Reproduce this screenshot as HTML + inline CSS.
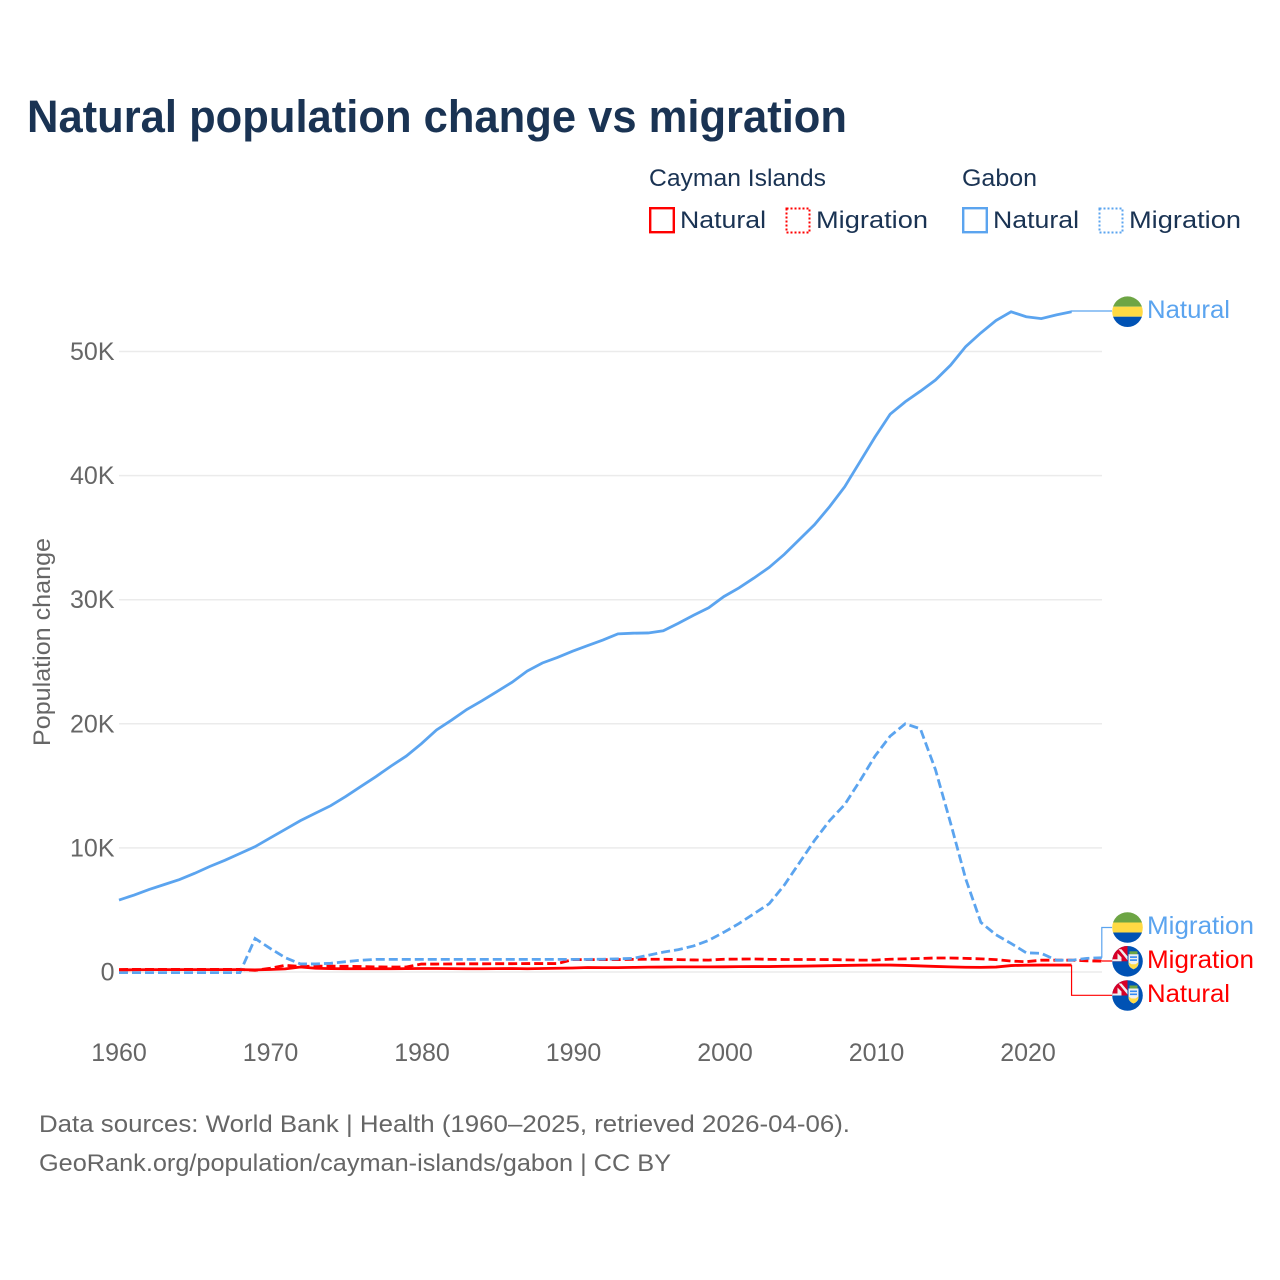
<!DOCTYPE html>
<html lang="en">
<head>
<meta charset="utf-8">
<title>Natural population change vs migration</title>
<style>
html,body{margin:0;padding:0;background:#fff;width:1280px;height:1280px;overflow:hidden}
svg{display:block}
text{font-family:"Liberation Sans",sans-serif}
.tick{font-size:25px;fill:#666}
.leg{font-size:24.5px;fill:#1a3353}
.foot{font-size:24.5px;fill:#666}
.lab{font-size:25px}
</style>
</head>
<body>
<svg id="chart" xmlns="http://www.w3.org/2000/svg" width="1280" height="1280" viewBox="0 0 1280 1280">
<defs>
<clipPath id="flag-clip"><circle cx="0" cy="0" r="15.3"/></clipPath>
<g id="flag-gabon">
<g clip-path="url(#flag-clip)">
<rect x="-16" y="-16" width="32" height="11" fill="#6da544"/>
<rect x="-16" y="-5" width="32" height="10" fill="#ffda44"/>
<rect x="-16" y="5" width="32" height="11" fill="#0052b4"/>
</g>
</g>
<g id="flag-cayman">
<g clip-path="url(#flag-clip)">
<rect x="-16" y="-16" width="32" height="32" fill="#0052b4"/>
<rect x="-16" y="-16" width="16" height="16" fill="#d80027"/>
<path d="M-9,-12 L-6,-12 L0,-5 L0,-1 Z" fill="#f0f0f0"/>
<path d="M-10,-8 L-10,-2 L-16,-2 L-16,0 L-6,0 L-6,-4 Z" fill="#f0f0f0"/>
<rect x="2" y="-10" width="8" height="3" fill="#6da544"/>
<path d="M1,-7 H11 V2 Q11,6 6,8 Q1,6 1,2 Z" fill="#f0f0f0"/>
<path d="M1,1 Q1,6 6,8 Q11,6 11,1 L8,3 H4 Z" fill="#ffda44"/>
<rect x="2.5" y="-5" width="7" height="1.6" fill="#338af3"/>
<rect x="2.5" y="-2" width="7" height="1.6" fill="#338af3"/>
</g>
</g>
</defs>

<text x="27" y="132" font-size="45" font-weight="700" fill="#1a3353" textLength="820" lengthAdjust="spacingAndGlyphs">Natural population change vs migration</text>

<g>
<text class="leg" x="649" y="186" textLength="177" lengthAdjust="spacingAndGlyphs">Cayman Islands</text>
<text class="leg" x="962" y="186" textLength="75" lengthAdjust="spacingAndGlyphs">Gabon</text>
<rect x="650.2" y="208.2" width="23.6" height="24" fill="none" stroke="#ff0000" stroke-width="2.4"/>
<text class="leg" x="680" y="228" textLength="86" lengthAdjust="spacingAndGlyphs">Natural</text>
<rect x="786.5" y="208.5" width="23" height="24" fill="none" stroke="#ff0000" stroke-width="2" stroke-dasharray="2 2"/>
<text class="leg" x="816" y="228" textLength="112" lengthAdjust="spacingAndGlyphs">Migration</text>
<rect x="963.2" y="208.2" width="23.6" height="24" fill="none" stroke="#5ba4ef" stroke-width="2.4"/>
<text class="leg" x="993" y="228" textLength="86" lengthAdjust="spacingAndGlyphs">Natural</text>
<rect x="1099.5" y="208.5" width="23" height="24" fill="none" stroke="#5ba4ef" stroke-width="2" stroke-dasharray="2 2"/>
<text class="leg" x="1129" y="228" textLength="112" lengthAdjust="spacingAndGlyphs">Migration</text>
</g>

<g id="grid"></g>
<g id="yticks"></g>
<g id="xticks"></g>
<g id="series"></g>
<g id="connectors"></g>

<text transform="translate(50,746) rotate(-90)" font-size="24.5" fill="#666" textLength="208" lengthAdjust="spacingAndGlyphs">Population change</text>

<g>
<use href="#flag-gabon" x="1127.5" y="311.7"/>
<text class="lab" x="1147" y="318" fill="#5ba4ef" textLength="83" lengthAdjust="spacingAndGlyphs">Natural</text>
<use href="#flag-gabon" x="1127.5" y="927.5"/>
<text class="lab" x="1147" y="934" fill="#5ba4ef" textLength="107" lengthAdjust="spacingAndGlyphs">Migration</text>
<use href="#flag-cayman" x="1127.5" y="961.3"/>
<text class="lab" x="1147" y="968" fill="#ff0000" textLength="107" lengthAdjust="spacingAndGlyphs">Migration</text>
<use href="#flag-cayman" x="1127.5" y="995.5"/>
<text class="lab" x="1147" y="1002" fill="#ff0000" textLength="83" lengthAdjust="spacingAndGlyphs">Natural</text>
</g>

<text class="foot" x="39" y="1132" textLength="811" lengthAdjust="spacingAndGlyphs">Data sources: World Bank | Health (1960–2025, retrieved 2026-04-06).</text>
<text class="foot" x="39" y="1171" textLength="632" lengthAdjust="spacingAndGlyphs">GeoRank.org/population/cayman-islands/gabon | CC BY</text>
</svg>

<script>
const startYear = 1960;
const yTickValues = [0, 10000, 20000, 30000, 40000, 50000];
const yTickLabels = ["0", "10K", "20K", "30K", "40K", "50K"];
const xTickYears = [1960, 1970, 1980, 1990, 2000, 2010, 2020];
const gabonNatural = [5800,6200,6650,7050,7450,7950,8500,9000,9550,10100,10800,11500,12200,12800,13400,14150,14950,15750,16600,17400,18400,19500,20300,21150,21850,22600,23350,24250,24900,25350,25850,26300,26750,27250,27300,27320,27500,28100,28750,29350,30250,30950,31750,32600,33650,34850,36050,37500,39100,41100,43100,44950,45950,46800,47700,48900,50400,51500,52500,53200,52800,52650,52950,53200];
const gabonMigration = [-50,-50,-50,-50,-50,-50,-50,-50,-50,2700,1900,1150,650,650,700,830,950,1020,1020,1020,1020,1020,1020,1020,1020,1020,1020,1020,1020,1020,1020,1020,1030,1060,1100,1350,1600,1800,2100,2550,3200,3900,4700,5500,7000,8800,10600,12200,13500,15400,17400,19000,20000,19600,16300,12000,7500,4000,3000,2300,1550,1500,950,950,1100,1150];
const caymanNatural = [170,180,190,190,190,190,190,190,190,170,200,250,400,300,270,260,260,260,260,270,280,280,270,260,260,270,280,260,280,300,320,360,350,350,370,390,400,410,410,410,420,430,440,440,460,470,490,510,530,550,560,560,530,490,450,410,380,370,400,520,550,560,560,560];
const caymanMigration = [200,210,210,210,210,210,210,210,210,130,300,540,450,470,470,460,440,410,400,400,640,640,650,660,660,670,670,680,680,680,1000,1000,1000,1000,1020,1030,1030,1000,970,960,1030,1040,1050,1020,1010,1010,1010,1000,980,960,960,1030,1060,1090,1130,1130,1100,1060,1000,880,830,950,950,950,900,880];

const svgNS = "http://www.w3.org/2000/svg";
function xScale(year) { return 119 + (year - 1960) * 15.12; }
function xLabelPos(year) { return 119 + (year - 1960) * 15.15; }
function yScale(value) { return 972 - value * 0.01241; }
function make(tag, attrs, parent) {
  const el = document.createElementNS(svgNS, tag);
  for (const k in attrs) el.setAttribute(k, attrs[k]);
  parent.appendChild(el);
  return el;
}
function linePath(values) {
  return values.map(function (v, i) {
    return (i ? "L" : "M") + xScale(startYear + i).toFixed(2) + "," + yScale(v).toFixed(2);
  }).join(" ");
}

const grid = document.getElementById("grid");
const yticks = document.getElementById("yticks");
yTickValues.forEach(function (v, i) {
  const g = make("line", {x1: 119, x2: 1102, y1: yScale(v), y2: yScale(v), stroke: "#ebebeb", "stroke-width": 1.5}, grid);
  
  
  const t = make("text", {x: 114.5, y: yScale(v) + 8.5, "text-anchor": "end", "class": "tick"}, yticks);
  
  
  t.textContent = yTickLabels[i];
});
const xticks = document.getElementById("xticks");
xTickYears.forEach(function (yr) {
  const t = make("text", {x: xLabelPos(yr), y: 1061, "text-anchor": "middle", "class": "tick"}, xticks);
  
  
  t.textContent = yr;
});

const series = document.getElementById("series");
const red = "#ff0000", blue = "#5ba4ef";
const s1 = make("path", {d: linePath(caymanMigration), fill: "none", stroke: red, "stroke-width": 2.8, "stroke-dasharray": "9 4"}, series);


const s2 = make("path", {d: linePath(gabonNatural), fill: "none", stroke: blue, "stroke-width": 2.8}, series);


const s3 = make("path", {d: linePath(gabonMigration), fill: "none", stroke: blue, "stroke-width": 2.8, "stroke-dasharray": "9 4"}, series);


const s4 = make("path", {d: linePath(caymanNatural), fill: "none", stroke: red, "stroke-width": 2.8}, series);



const connectors = document.getElementById("connectors");
function connector(values, color, labelY) {
  const i = values.length - 1;
  const ex = xScale(startYear + i), ey = yScale(values[i]);
  return make("path", {d: "M" + ex + "," + ey + " V" + labelY + " H1112", fill: "none", stroke: color, "stroke-width": 1.2}, connectors);
}
const c1 = connector(gabonNatural, blue, 311);


const c2 = connector(gabonMigration, blue, 927.5);


const c3 = connector(caymanMigration, red, 961);


const c4 = connector(caymanNatural, red, 995.3);


</script>
</body>
</html>
